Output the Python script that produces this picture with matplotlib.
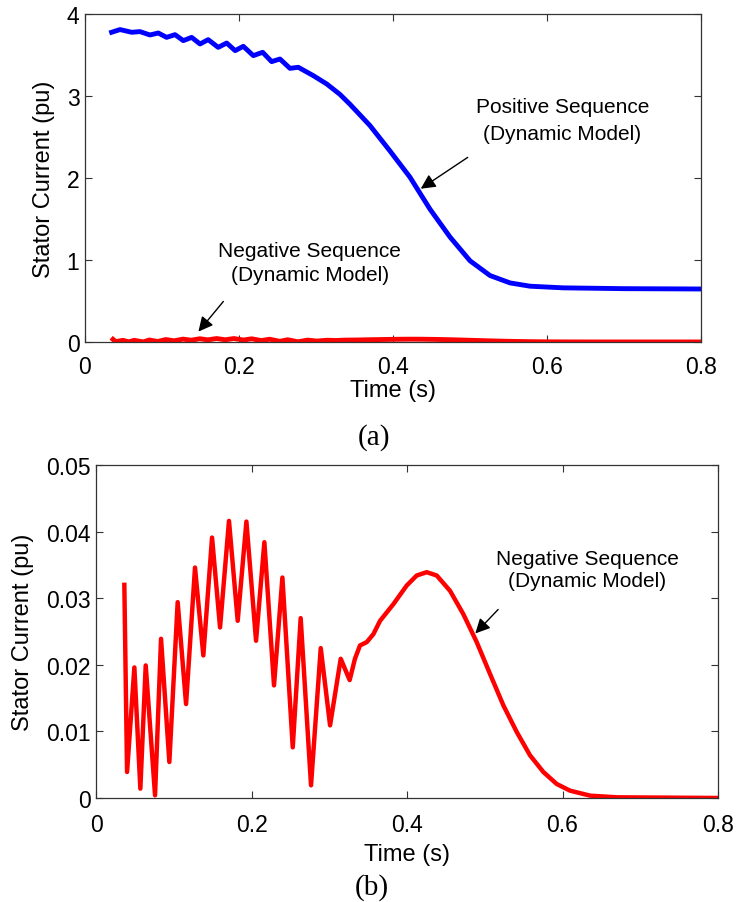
import numpy as np
import matplotlib
matplotlib.use("Agg")
import matplotlib.pyplot as plt

plt.rcParams['font.family'] = ['Liberation Sans', 'DejaVu Sans']

# positive sequence stator current (top plot)
pos_t = [0.0346, 0.0455, 0.0606, 0.0714, 0.0844, 0.0952, 0.106, 0.1169, 0.1277,
         0.1385, 0.1494, 0.160, 0.173, 0.184, 0.195, 0.2056, 0.2186, 0.2307,
         0.2424, 0.2532, 0.2662, 0.277, 0.2965, 0.314, 0.331, 0.344, 0.370,
         0.396, 0.422, 0.448, 0.474, 0.5, 0.526, 0.552, 0.578, 0.621, 0.7, 0.8]
pos_i = [3.777, 3.81, 3.777, 3.785, 3.744, 3.768, 3.715, 3.748, 3.675,
         3.715, 3.634, 3.687, 3.593, 3.646, 3.553, 3.606, 3.492, 3.533,
         3.419, 3.451, 3.337, 3.35, 3.248, 3.146, 3.02, 2.90, 2.64,
         2.33, 2.01, 1.62, 1.28, 0.99, 0.81, 0.72, 0.68, 0.66, 0.65, 0.646]

# negative sequence stator current (both plots)
neg_t = [0.0364, 0.0399, 0.0493, 0.057, 0.0639, 0.0759, 0.0836, 0.0943, 0.105,
         0.1158, 0.1273, 0.138, 0.1492, 0.1595, 0.171, 0.1822, 0.1934, 0.2058,
         0.2165, 0.2289, 0.2397, 0.253, 0.2632, 0.2765, 0.289, 0.301, 0.3147,
         0.3262, 0.333, 0.3395, 0.3482, 0.3567, 0.3653, 0.3824, 0.3996, 0.4124,
         0.4253, 0.4382, 0.4553, 0.4724, 0.4896, 0.5068, 0.5239, 0.5411, 0.5582,
         0.5753, 0.5925, 0.6096, 0.6354, 0.6697, 0.8]
neg_i = [0.032, 0.0039, 0.0196, 0.0014, 0.0199, 0.0004, 0.0239, 0.0054, 0.0294,
         0.0141, 0.0346, 0.0214, 0.0391, 0.0256, 0.0416, 0.0266, 0.0415, 0.0236,
         0.0384, 0.0169, 0.0331, 0.0076, 0.027, 0.0019, 0.0225, 0.0109, 0.0209,
         0.0177, 0.0209, 0.0229, 0.0234, 0.0246, 0.0266, 0.0291, 0.0319, 0.0334,
         0.0339, 0.0334, 0.0311, 0.0276, 0.0234, 0.0186, 0.0139, 0.0099, 0.0064,
         0.0039, 0.0021, 0.0011, 0.00035, 0.0001, 0.0]

x_ticks = [0, 0.2, 0.4, 0.6, 0.8]
top_yticks = [0, 1, 2, 3, 4]
bot_yticks = [0, 0.01, 0.02, 0.03, 0.04, 0.05]

FS_TICK = 16.5
FS_LABEL = 17
FS_NOTE = 15

fig = plt.figure(figsize=(7.37, 9.03), dpi=100)
ax1 = fig.add_axes([0.1153, 0.6202, 0.8359, 0.3632])
ax2 = fig.add_axes([0.1303, 0.1152, 0.8440, 0.3688])


def style(ax, yticks, ylabel_x, xlabel_y, xpad):
    ax.set_xlim(0, 0.8)
    ax.set_ylim(yticks[0], yticks[-1])
    ax.set_xticks(x_ticks)
    ax.set_xticklabels([f"{v:g}" for v in x_ticks])
    ax.set_yticks(yticks)
    ax.set_yticklabels([f"{v:g}" for v in yticks])
    ax.tick_params(direction='in', top=True, right=True, length=5, width=0.8,
                   labelsize=FS_TICK, color='#333333')
    ax.tick_params(axis='x', pad=xpad)
    ax.tick_params(axis='y', pad=4)
    for s in ax.spines.values():
        s.set_color('#333333')
        s.set_linewidth(0.9)
    ax.set_xlabel("Time (s)", fontsize=FS_LABEL)
    ax.set_ylabel("Stator Current (pu)", fontsize=FS_LABEL)
    ax.yaxis.set_label_coords(ylabel_x, 0.5)
    ax.xaxis.set_label_coords(0.5, xlabel_y)


# (a)
ax1.plot(pos_t, pos_i, color='#0000ff', lw=3.5, solid_joinstyle='round')
ax1.plot(neg_t, neg_i, color='#ff0000', lw=3.5, solid_joinstyle='round')
style(ax1, top_yticks, -0.048, -0.113, 9.5)
ax1.text(0.62, 2.87, "Positive Sequence", ha='center', va='center', fontsize=FS_NOTE)
ax1.text(0.62, 2.54, "(Dynamic Model)", ha='center', va='center', fontsize=FS_NOTE)
ax1.annotate("", xy=(0.433, 1.85), xytext=(0.5, 2.27),
             arrowprops=dict(arrowstyle='-|>', color='black', lw=1, mutation_scale=22))
ax1.text(0.292, 1.11, "Negative Sequence", ha='center', va='center', fontsize=FS_NOTE)
ax1.text(0.292, 0.82, "(Dynamic Model)", ha='center', va='center', fontsize=FS_NOTE)
ax1.annotate("", xy=(0.145, 0.1), xytext=(0.182, 0.52),
             arrowprops=dict(arrowstyle='-|>', color='black', lw=1, mutation_scale=22))

# (b)
ax2.plot(neg_t, neg_i, color='#ff0000', lw=3.2, solid_joinstyle='round')
style(ax2, bot_yticks, -0.1, -0.135, 11)
ax2.text(0.632, 0.036, "Negative Sequence", ha='center', va='center', fontsize=FS_NOTE)
ax2.text(0.632, 0.0326, "(Dynamic Model)", ha='center', va='center', fontsize=FS_NOTE)
ax2.annotate("", xy=(0.4853, 0.0244), xytext=(0.5196, 0.0286),
             arrowprops=dict(arrowstyle='-|>', color='black', lw=1, mutation_scale=22))

fig.text(0.507, 0.515, "(a)", ha='center', va='center', fontsize=21,
         family='Liberation Serif')
fig.text(0.505, 0.0166, "(b)", ha='center', va='center', fontsize=21,
         family='Liberation Serif')

fig.savefig("out.png", dpi=100)
